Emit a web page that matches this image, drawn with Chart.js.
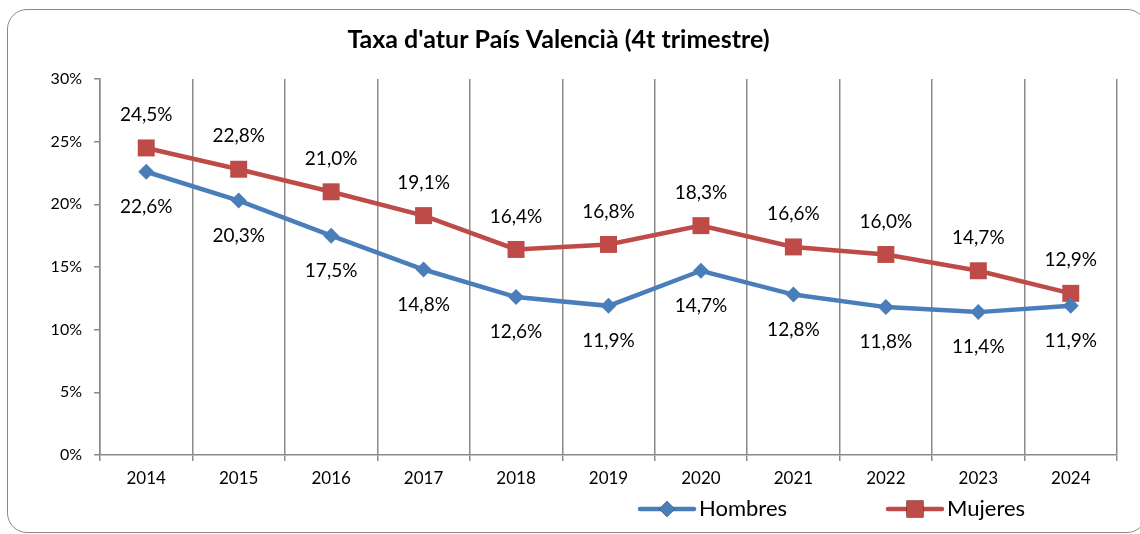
<!DOCTYPE html>
<html>
<head>
<meta charset="utf-8">
<script src="https://cdn.jsdelivr.net/npm/chart.js@4"></script>
<style>
  html, body { margin: 0; padding: 0; background: #fff; overflow: hidden; }
  #wrap { position: relative; width: 1140px; height: 534px; }
  #frame {
    position: absolute; left: 7px; top: 9px; width: 1138px; height: 522px;
    border: 1.5px solid #8a8a8a; border-radius: 20px; pointer-events: none;
  }
  canvas { position: absolute; left: 0; top: 0; }
</style>
</head>
<body>
<div id="wrap">
  <canvas id="atur" width="1140" height="534"></canvas>
  <div id="frame"></div>
</div>
<script>
const years = ['2014', '2015', '2016', '2017', '2018', '2019', '2020', '2021', '2022', '2023', '2024'];
const hombres = [22.6, 20.3, 17.5, 14.8, 12.6, 11.9, 14.7, 12.8, 11.8, 11.4, 11.9];
const mujeres = [24.5, 22.8, 21.0, 19.1, 16.4, 16.8, 18.3, 16.6, 16.0, 14.7, 12.9];
const yTicks = [0, 5, 10, 15, 20, 25, 30];

const FONT = 'Lato, "Open Sans", sans-serif';
const BLUE = '#4a7ebb';
const RED = '#be4b48';
const AXIS = '#8a8a8a';

// value labels: women above the point, men below
const valueLabels = {
  id: 'valueLabels',
  afterDatasetsDraw(chart) {
    const ctx = chart.ctx;
    ctx.save();
    ctx.font = '19px ' + FONT;
    ctx.fillStyle = '#000';
    ctx.textAlign = 'center';
    ctx.textBaseline = 'middle';
    chart.data.datasets.forEach((ds, i) => {
      const meta = chart.getDatasetMeta(i);
      const dy = ds.labelPos === 'above' ? -33 : 35;
      meta.data.forEach((pt, j) => {
        const txt = ds.data[j].toFixed(1).replace('.', ',') + '%';
        ctx.fillText(txt, pt.x, pt.y + dy);
      });
    });
    ctx.restore();
  }
};

// line + marker legend, bottom right
const lineLegend = {
  id: 'lineLegend',
  afterDraw(chart) {
    const ctx = chart.ctx;
    const y = 509;
    const starts = [640, 888];
    ctx.save();
    chart.data.datasets.forEach((ds, i) => {
      const x0 = starts[i];
      ctx.strokeStyle = ds.borderColor;
      ctx.lineWidth = ds.borderWidth;
      ctx.lineCap = 'round';
      ctx.beginPath();
      ctx.moveTo(x0, y);
      ctx.lineTo(x0 + 54, y);
      ctx.stroke();
      Chart.helpers.drawPoint(ctx, {
        pointStyle: ds.pointStyle, radius: ds.pointRadius, borderWidth: 0
      }, x0 + 27, y);
      ctx.fillStyle = ds.pointBackgroundColor;
      ctx.fill();
      ctx.fillStyle = '#000';
      ctx.font = '22px ' + FONT;
      ctx.textAlign = 'left';
      ctx.textBaseline = 'middle';
      ctx.fillText(ds.label, x0 + 59, y);
    });
    ctx.restore();
  }
};

new Chart(document.getElementById('atur'), {
  type: 'line',
  data: {
    labels: years,
    datasets: [
      {
        label: 'Hombres',
        data: hombres,
        borderColor: BLUE,
        backgroundColor: BLUE,
        pointBackgroundColor: BLUE,
        pointBorderColor: BLUE,
        borderWidth: 4.5,
        pointStyle: 'rectRot',
        pointRadius: 8,
        pointBorderWidth: 0,
        labelPos: 'below'
      },
      {
        label: 'Mujeres',
        data: mujeres,
        borderColor: RED,
        backgroundColor: RED,
        pointBackgroundColor: RED,
        pointBorderColor: RED,
        borderWidth: 4.5,
        pointStyle: 'rect',
        pointRadius: 12,
        pointBorderWidth: 0,
        labelPos: 'above'
      }
    ]
  },
  options: {
    responsive: false,
    animation: false,
    layout: { padding: { left: 0, right: 23, top: 0, bottom: 0 } },
    plugins: {
      legend: { display: false },
      tooltip: { enabled: false },
      title: {
        display: true,
        text: "Taxa d'atur País Valencià (4t trimestre)",
        color: '#000',
        font: { family: FONT, size: 25, weight: 'bold' },
        padding: { top: 25, bottom: 24 }
      }
    },
    scales: {
      x: {
        offset: true,
        afterFit(scale) { scale.height = 79; },
        grid: {
          offset: true,
          color: AXIS,
          lineWidth: 1.5,
          tickLength: 6
        },
        border: { color: AXIS, width: 1.5 },
        ticks: { color: '#000', font: { family: FONT, size: 17 }, padding: 7 }
      },
      y: {
        min: 0,
        max: 30,
        afterFit(scale) { scale.width = 100; },
        afterBuildTicks(scale) { scale.ticks = yTicks.map(v => ({ value: v })); },
        grid: {
          drawOnChartArea: false,
          color: AXIS,
          lineWidth: 1.5,
          tickLength: 6
        },
        border: { color: AXIS, width: 1.5 },
        ticks: {
          color: '#000',
          font: { family: FONT, size: 16 },
          padding: 12,
          callback: v => v + '%'
        }
      }
    }
  },
  plugins: [valueLabels, lineLegend]
});
</script>
</body>
</html>
